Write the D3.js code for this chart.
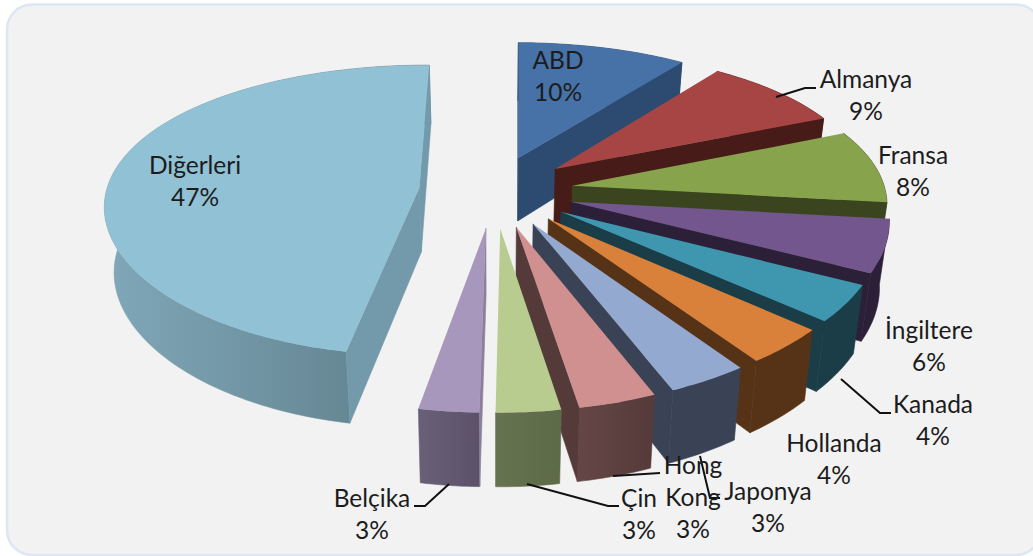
<!DOCTYPE html>
<html><head><meta charset="utf-8">
<script src="https://cdnjs.cloudflare.com/ajax/libs/d3/7.8.5/d3.min.js"></script>
<style>html,body{margin:0;padding:0;background:#fff;overflow:hidden}svg{display:block}text{font-family:Lato,"Open Sans",sans-serif;fill:#1c1c1c}</style>
</head><body><svg id="c" width="1033" height="556"></svg>
<script>
// ---- data
const categories = ["ABD","Almanya","Fransa","İngiltere","Kanada","Hollanda","Japonya","Hong Kong","Çin","Belçika","Diğerleri"];
const values = [9.9,8.5,8.3,5.7,3.9,3.8,3.6,3.5,2.9,2.7,47.2];
const percentLabels = ["10%","9%","8%","6%","4%","4%","3%","3%","3%","3%","47%"];
// ---- style
const topColors  = ["#4672a8","#a64543","#87a44c","#73568e","#3f97af","#d9803a","#93a9cf","#d09090","#b9cc90","#a897bc","#91c1d4"];
const faceColors = ["#2d4a70","#471b17","#3a451f","#2c2038","#1a3d48","#563317","#3a4256","#553a3a","#626f4c","#8c7f9c","#739aab"];
const wallFrom   = ["#2d4a70","#471b17","#3a451f","#2c2038","#1a3d48","#563317","#3a4256","#654646","#667350","#696078","#80a8b9"];
const wallTo     = ["#2d4a70","#471b17","#3a451f","#2c2038","#1a3d48","#563317","#3a4256","#553a3a","#5d6a48","#5c5268","#5e7d89"];
const explodeBy  = [.254,.254,.254,.254,.254,.254,.254,.254,.254,.254,.24];
const drawOrder  = [0,1,2,3,4,5,6,7,10,9,8];
// ---- layout of labels: [centre x, first baseline], text lines per label
const labelPos = [[558,69],[866,88],[913,164],[929,339],[933,413],[834,452],[768,500],[693,474],[639,507],[372,507],[195,174]];
const labelLines = [["ABD"],["Almanya"],["Fransa"],["İngiltere"],["Kanada"],["Hollanda"],["Japonya"],["Hong","Kong"],["Çin"],["Belçika"],["Diğerleri"]];
const leaders = [
 [[776,97],[805,88],[816,88]],
 [[449,484],[425,506],[414,506]],
 [[527,484],[608,506],[619,506]],
 [[613,476],[660,473]],
 [[700,456],[710,498],[720,498]],
 [[841,379],[880,413],[891,413]]
];
// ---- projection parameters
const cx=494, cy=191, A=313, K=142.5, DY=.155, DX=.11, ROT=0.5*Math.PI/180;
const heightAt = d3.scaleLinear().domain([157,410]).range([63,74]);
const px=(X,Y)=>cx+A*X/(1-DX*Y);
const py=(Y)=>cy+K*Y/(1-DY*Y);
const project=(X,Y)=>[px(X,Y),py(Y)];
const drop=p=>[p[0]+(496-p[0])*.025,p[1]+heightAt(p[1])];

const svg=d3.select("#c");
svg.append("rect").attr("x",7).attr("y",4.5).attr("width",1034).attr("height",550.5).attr("rx",25)
  .attr("fill","#f2f2f2").attr("stroke","#dde7f3").attr("stroke-width",2.5);
const defs=svg.append("defs");
const line=d3.line();

const arcs=d3.pie().sort(null).value(d=>d).startAngle(ROT).endAngle(ROT+2*Math.PI)(values);
const shapes=arcs.map((a,i)=>{
  const mid=(a.startAngle+a.endAngle)/2;
  const ox=explodeBy[i]*Math.sin(mid), oy=-explodeBy[i]*Math.cos(mid);
  const n=Math.max(8,Math.round((a.endAngle-a.startAngle)*60));
  const rim=d3.range(n+1).map(k=>{
    const t=a.startAngle+(a.endAngle-a.startAngle)*k/n;
    return project(ox+Math.sin(t),oy-Math.cos(t));
  });
  return {i,apex:project(ox,oy),rim};
});
const face=(p,q)=>[p,q,drop(q),drop(p)];

drawOrder.forEach(i=>{
  const s=shapes[i], g=svg.append("g").attr("class","slice");
  const xs=s.rim.map(d=>d[0]);
  const gid="wall"+i;
  const grad=defs.append("linearGradient").attr("id",gid).attr("gradientUnits","userSpaceOnUse")
    .attr("x1",d3.min(xs)).attr("x2",d3.max(xs)).attr("y1",0).attr("y2",0);
  grad.append("stop").attr("offset",0).attr("stop-color",wallFrom[i]);
  grad.append("stop").attr("offset",1).attr("stop-color",wallTo[i]);
  const firstFace=face(s.apex,s.rim[0]), lastFace=face(s.apex,s.rim[s.rim.length-1]);
  const wall=s.rim.concat(s.rim.map(drop).reverse());
  g.append("path").attr("d",line(wall)+"Z").attr("fill",`url(#${gid})`).attr("stroke",`url(#${gid})`).attr("stroke-width",.6);
  // only the radial faces that turn towards the viewer
  if(d3.polygonArea(firstFace)>0) g.append("path").attr("d",line(firstFace)+"Z").attr("fill",faceColors[i]).attr("stroke",faceColors[i]).attr("stroke-width",.6);
  if(d3.polygonArea(lastFace)<0) g.append("path").attr("d",line(lastFace)+"Z").attr("fill",faceColors[i]).attr("stroke",faceColors[i]).attr("stroke-width",.6);
  g.append("path").attr("d",line([s.apex].concat(s.rim))+"Z").attr("fill",topColors[i]);
});

svg.append("g").selectAll("path").data(leaders).join("path")
  .attr("d",d=>line(d)).attr("fill","none").attr("stroke","#111").attr("stroke-width",2);

categories.forEach((c,i)=>{
  const [x,y]=labelPos[i];
  const t=svg.append("text").attr("x",x).attr("y",y).attr("text-anchor","middle").style("font-size","24.5px");
  labelLines[i].concat([percentLabels[i]]).forEach((l,k)=>{
    t.append("tspan").attr("x",x).attr("y",y+k*32).text(l);
  });
});
</script></body></html>
